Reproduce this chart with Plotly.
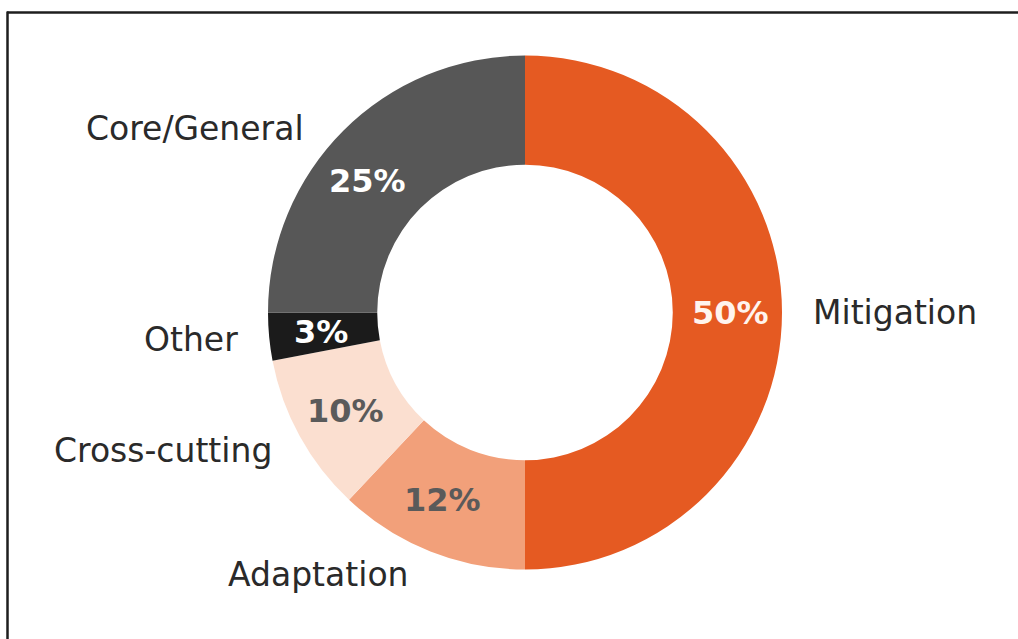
import math
import plotly.graph_objects as go

# Share of funding by theme
categories = ["Mitigation", "Adaptation", "Cross-cutting", "Other", "Core/General"]
shares = [50, 12, 10, 3, 25]
slice_colors = ["#E55A22", "#F2A07A", "#FBDFD0", "#1B1B1B", "#575757"]
pct_colors = ["#FFF4EE", "#5A5A5A", "#5A5A5A", "#FFFFFF", "#FFFFFF"]

W, H = 1018, 639
CX, CY = 525, 312.5        # donut centre in pixels (from top-left)
R_OUT = 257
HOLE = 0.575
R_MID = 205                 # radius of the percentage labels
R_LABEL = 286               # radius where category names start
# small angular nudges (degrees) so labels sit clear of neighbours
angle_nudge = {"Core/General": -5, "Adaptation": 2}

FONT = "DejaVu Sans, Verdana, sans-serif"

fig = go.Figure(
    go.Pie(
        labels=categories,
        values=shares,
        hole=HOLE,
        sort=False,
        direction="clockwise",
        rotation=0,
        marker=dict(colors=slice_colors, line=dict(width=0)),
        textinfo="none",
        hoverinfo="label+percent",
        showlegend=False,
        domain=dict(
            x=[(CX - R_OUT) / W, (CX + R_OUT) / W],
            y=[(H - CY - R_OUT) / H, (H - CY + R_OUT) / H],
        ),
    )
)


def to_paper(r, ang_deg):
    """Point at radius r (px) and clockwise angle from 12 o'clock -> paper coords."""
    a = math.radians(ang_deg)
    px = CX + r * math.sin(a)
    py = CY - r * math.cos(a)
    return px / W, 1 - py / H, math.sin(a)


total = sum(shares)
cum = 0
annotations = []
for name, v, tc in zip(categories, shares, pct_colors):
    mid = (cum + v / 2) / total * 360 + angle_nudge.get(name, 0)
    cum += v
    x, y, s = to_paper(R_MID, mid)
    annotations.append(dict(
        x=x, y=y, xref="paper", yref="paper", showarrow=False,
        text=f"<b>{round(v / total * 100)}%</b>",
        font=dict(family=FONT, size=32, color=tc),
        xanchor="center", yanchor="middle",
    ))
    lx, ly, s = to_paper(R_LABEL, mid)
    annotations.append(dict(
        x=lx, y=ly, xref="paper", yref="paper", showarrow=False,
        text=name,
        font=dict(family=FONT, size=33, color="#2A2A2A"),
        xanchor="left" if s > 0.05 else "right", yanchor="middle",
    ))

fig.update_layout(
    width=W, height=H,
    margin=dict(l=0, r=0, t=0, b=0),
    paper_bgcolor="white",
    plot_bgcolor="white",
    annotations=annotations,
    shapes=[
        dict(type="line", xref="paper", yref="paper",
             x0=7 / W, x1=1, y0=1 - 12.5 / H, y1=1 - 12.5 / H,
             line=dict(color="#1E1E1E", width=2.5)),
        dict(type="line", xref="paper", yref="paper",
             x0=7.5 / W, x1=7.5 / W, y0=0, y1=1 - 11.5 / H,
             line=dict(color="#1E1E1E", width=2.5)),
    ],
)

fig.write_html("out.html")
